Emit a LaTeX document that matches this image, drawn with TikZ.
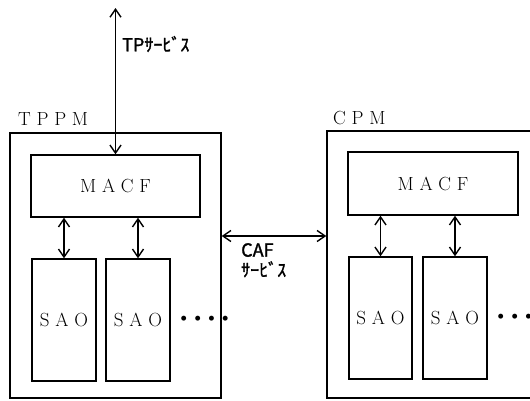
\documentclass[tikz,border=0pt]{standalone}
\usepackage{fontspec}
\newfontfamily\jpfont[AutoFakeBold=1.5]{Noto Sans CJK JP}
\usetikzlibrary{arrows.meta}

\begin{document}
\begin{tikzpicture}[x=1pt, y=-1pt,
    box/.style={draw, line width=1.4pt, inner sep=0pt},
    spaced/.style={font=\fontsize{19}{20}\selectfont},
    biarrow/.style={{Straight Barb[length=8pt,width=11pt]}-{Straight Barb[length=8pt,width=11pt]}, line width=1.4pt},
    kana/.style={font=\jpfont\bfseries\fontsize{18}{20}\selectfont, align=left, inner sep=0pt},
    dotrow/.style={font=\fontsize{22}{22}\selectfont, anchor=west, inner sep=0pt}]
  \useasboundingbox (0,0) rectangle (530,400);
  \clip (0,0) rectangle (530,400);
  % outer modules
  \node[box, minimum width=211pt, minimum height=265pt] (tppm) at (115.5,265.5) {};
  \node[box, minimum width=210pt, minimum height=267pt] (cpm) at (432,264.5) {};
  \node[spaced, anchor=base west, inner sep=0pt] (tppmlbl) at (18,125) {T P P M};
  \node[spaced, anchor=base west, inner sep=0pt] (cpmlbl) at (333,124) {C P M};
  % left side
  \node[box, spaced, minimum width=169pt, minimum height=62pt] (macfl) at (115.5,186) {M A C F};
  \node[box, spaced, minimum width=64pt, minimum height=122pt] (saol1) at (64,320) {S A O};
  \node[box, spaced, minimum width=64pt, minimum height=122pt] (saol2) at (138,320) {S A O};
  \node[dotrow] (dotsl) at ([xshift=5pt]saol2.east) {\textbullet\kern-2pt\textbullet\kern-2pt\textbullet\kern-2pt\textbullet};
  % right side
  \node[box, spaced, minimum width=170pt, minimum height=63pt] (macfr) at (433,183.5) {M A C F};
  \node[box, spaced, minimum width=63pt, minimum height=122pt] (saor1) at (380.5,318) {S A O};
  \node[box, spaced, minimum width=64pt, minimum height=122pt] (saor2) at (455,318) {S A O};
  \node[dotrow] (dotsr) at ([xshift=5pt]saor2.east) {\textbullet\kern-2pt\textbullet\kern-2pt\textbullet\kern-2pt\textbullet};
  % services
  \coordinate (tptop) at (115.5,8);
  \coordinate (cafy) at (0,236);
  \draw[biarrow] (tptop) -- (macfl.north);
  \node[kana, anchor=west] (tplbl) at (122,44) {TPｻｰﾋﾞｽ};
  \draw[biarrow] (tppm.east |- cafy) -- (cpm.west |- cafy);
  \node[kana, anchor=north west] (caflbl) at (241,243) {CAF\\ｻｰﾋﾞｽ};
  % macf <-> sao
  \draw[biarrow] (saol1.north |- macfl.south) -- (saol1.north);
  \draw[biarrow] (saol2.north |- macfl.south) -- (saol2.north);
  \draw[biarrow] (saor1.north |- macfr.south) -- (saor1.north);
  \draw[biarrow] (saor2.north |- macfr.south) -- (saor2.north);
\end{tikzpicture}
\end{document}
